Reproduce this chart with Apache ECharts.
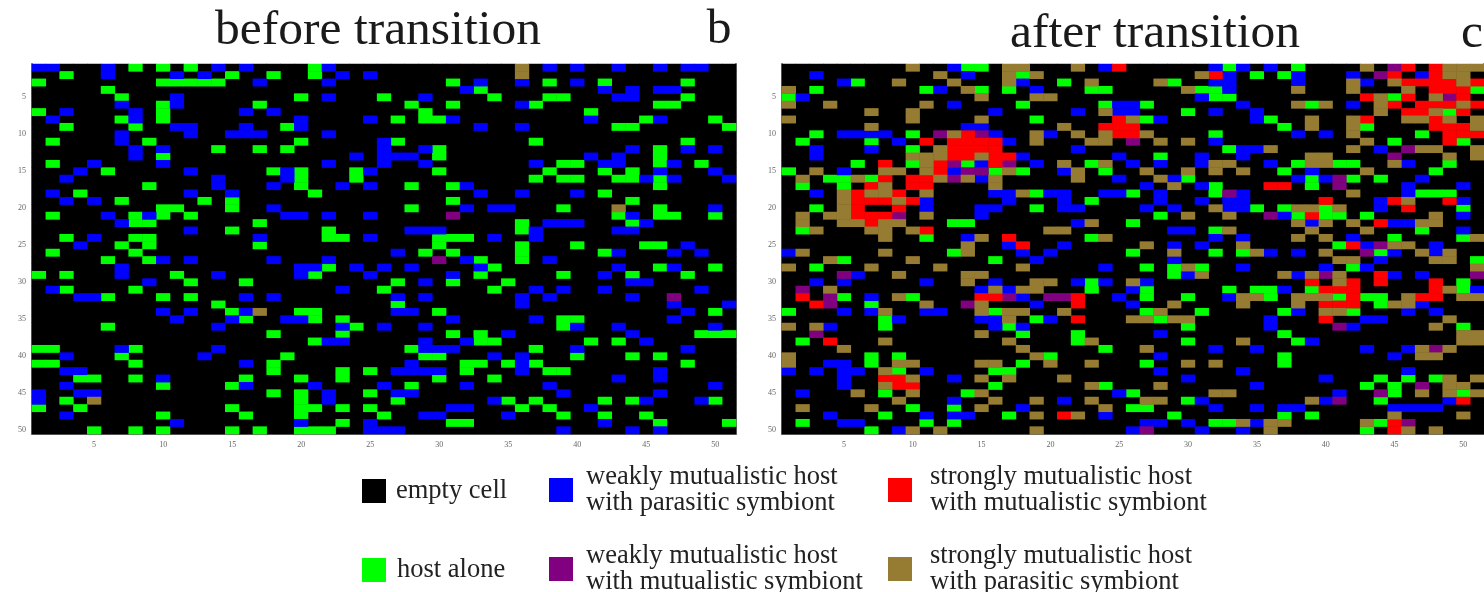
<!DOCTYPE html>
<html>
<head>
<meta charset="utf-8">
<script src="https://cdn.jsdelivr.net/npm/echarts@6/dist/echarts.min.js"></script>
<style>html,body{margin:0;padding:0;background:#fff;overflow:hidden}#c{width:1484px;height:592px;filter:blur(0.6px)}</style>
</head>
<body>
<div id="c"></div>
<script>
const columns = Array.from({length: 51}, (_, i) => String(i + 1));
const rows = Array.from({length: 50}, (_, i) => String(i + 1));
const stateNames = {
  E: 'empty cell',
  G: 'host alone',
  B: 'weakly mutualistic host\nwith parasitic symbiont',
  P: 'weakly mutualistic host\nwith mutualistic symbiont',
  R: 'strongly mutualistic host\nwith mutualistic symbiont',
  T: 'strongly mutualistic host\nwith parasitic symbiont'
};
const stateColors = {E: '#000000', G: '#00ff00', B: '#0000ff', P: '#800080', R: '#ff0000', T: '#967b32'};

// each row lists, per state letter, the occupied column numbers
const beforeRows = [
"B1,2,6,14,16,22,38,40,43,46,48,49 G8,10,12,21 T36",
"B6,11,13,23,25 G3,15,18,21 T36",
"B17,22,33,36,40 G1,10,11,12,13,14,31,38,42,48",
"B32,42,44,46,47 G6,33",
"B11,22,29,43,44 G7,20,26,34,38,39,48",
"B7,11,36 G10,17,28,31,37,46,47",
"B3,8,16,18 G1,10,29,41",
"B2,8,20,25,31,41,46 G7,10,27,29,30,45,50",
"B11,12,16,20,33,36 G3,8,19,43,44,51",
"B7,12,15,16,17,22",
"B7,26 G2,9,20,27,37,48",
"B8,10,26,29,44,48,50 G14,17,19,30,46",
"B8,24,26,27,28,41,43 G10,30,46",
"B5,10,22,26,29,37,42,43,47 G2,39,40,46,49",
"B4,12,19,25,46,50 G6,18,20,24,30,38,42,44",
"B3,14,19,45,47,51 G20,24,37,39,40,43,44,46",
"B14,18,23,25,32 G9,20,28,31,46",
"B2,12,15,33,36,40 G4,21,42",
"B3,5 G7,13,15,31,44",
"B18,32,34,35,50 G10,11,15,28,39,46 T43",
"B6,9,19,20,22,25,44 G2,8,10,12,43,46,47,50 P31",
"B7,38,39,40,45 G8,9,17,36,44",
"B12,28,29,30,37,43,44 G15,22,36",
"B5,17,25,34,37 G3,8,9,22,23,30,31,32",
"B4,48 G7,9,17,30,36,40,45,46",
"B27,43,47,49 G2,8,29,31,36,42",
"B10,12,18,22,32,38 G6,9,33,36 P30",
"B7,20,21,24,26,28,33,43,47 G22,34,46,50",
"B7,14,20,25,31,42 G1,3,11,21,33,39,44,48",
"B9,29,44,45 G12,16,27,31,35",
"B2,23,37,39,42,49 G3,8,26,34",
"B4,5,16,18,27,29,36,38,44 G6,10,12 P47",
"B36,47,51 G14,27",
"B10,12,16,27,28,48 G15,20,21,30,50 T17",
"B11,15,19,20,31,37,47 G16,21,23,39,40",
"B14,23,26,29,40,43,50 G6,24,39",
"B35,44 G18,23,31,33,49,50,51",
"B22,23,29,32,45 G21,33,34,41,43",
"B7,14,29,30,31,40,48 G1,2,8,28,37",
"B3,13,34,36 G7,19,29,30,40,44,46",
"B16,28,36 G1,2,8,18,32,33,35,37,48",
"B3,4,27,28,29,30,36,46 G18,23,25,32,38,39",
"B10,43,46 G4,5,8,16,20,23,30,34",
"B3,16,21,26,32,38,50 G10,15,28",
"B1,4,5,22,27,28,39,46 G18,20,25",
"B1,22,34,45,49 G3,20,27,35,37,42,44,50 T5",
"B31,32,41 G1,4,15,20,21,23,25,36,38",
"B3,29,30,35 G10,16,20,26,39,42,45",
"B11,20,25,42 G23,31,32,46,51",
"B25,26,27,39,44,46 G5,8,10,15,17,20,21,22"
];

const afterRows = [
"T10,17,18,22,43,49,50,51 B13,24,32,34,36 G14,15,33,38 R25,46,48 P45",
"B3,14,33,38,42,47 T12,17,19,31,49,50 G18,35,37 R32,45,48 P44",
"B5,18,32,33,38,43 G6,21,29 T9,13,17,23,28,42,45,50 R46,47,48,49,51",
"T1,14,30,38,42,46 G3,11,15,17,23,24,31,32,51 B12,19,33 R48,49,50",
"G1,32,33,45 B2,31 T15,19,20,44,48 R43,46,50 P49",
"T1,4,11,38,40,44,50 B13,25,26,34,42 G18,24,27,39 R45,47,48,49,51",
"T7,10,24,44,48 B16,22,25,26,32,35 G30,49 R46,47,50",
"T1,10,15,26,39,42,46,47,49,51 G19,27,36 R25,43,48 B28,35",
"T7,21,39,42,51 B14,15 R24,25,26,48,49,50 G37,43",
"G3,10,32,47 B5,6,7,8,16,20,38,40 P12,15 T13,19,22,24,27,42 R14,25,26,49,50,51",
"G2,7,45,50 B9,17,32 R11,13,14,15,16,49 T19,23,24,28,30,43 P26",
"B3,7,22,34,35,44 G10,33 T12,36,42,47,48,51 R13,14,15,16 P46",
"B3,18,25,31,34 T10,11,12,15,39,40,49,51 R13,14,16,17 G28 P45",
"G6,10,14,23,38,41,42,49 R8,12,16 T11,21,24,32,33,39,40,45 P13,17 B15,19,26,28,31,36,46",
"G1,16,18,24,37,48 T3,8,9,11,17,22,27,30,32,34,43 B5,13,21,39 R12 P14,15",
"T2,6,12,14,16,22,28 B15,25,29,38,40,47 R8,10,11 P13,41 G4,5,7,30,39,42,44",
"G2,5,32,39 R7,10,11,36,37 T8,16,29 B27,31,46,50 P41",
"B3,16,17,20,21,24,25,28,34,46 T5,7,8,11,18,42 R6,9 G19,26,32,47,48,49 P33",
"T5,9,46 R6,7,8,10,40,45,49 B11,17,21,28,31,33,34,44,50 G23",
"T5,32,38,39,41 G3,19,35,37,40,50 R6,9,46 B11,15,16,21,22,27,29,33,34,44",
"T2,4,5,11,30,33,48 R6,7,8,39 P9,36 B15,37,50 G28,38,40,41,43",
"T2,5,6,8,9,23,38,40,42,47,48 R7,44 G13,14,26 B22,39,45,46",
"G2,32,47 T3,7,8,10,20,21,33,39,43 R11 B29,30,50",
"T8,15,24,38,40,51 G11,23,45,50 B14,32,34,42 R17",
"T14,27,34,45,46 B17,21,29,31,43,48 R18,42 G41 P44",
"B1,18,20,36,38,45,48 T2,8,14,29,35,40,47,49 G13,26,32,34,44 P43",
"T4,10,41,42,48,49 G5,16,51 B19,29,44",
"T1,7,12,18,30,51 G3,27,29,31,42 B24,34,40,43",
"P5,40,51 B6,30,38,45,47 T9,14,15,31,37,39,41 G29 R44",
"B3,5,11,16,22,24,27 T14,19,20,26,41 G23,50 R39,42,44,48",
"P2 T4,16,18,19,49 B15,17,26,37,51 G23,27,33,35,36,39,50 R40,41,42,48",
"R2,15,16,22,42,47,48 P4,17,20,21 G5,10,27,30,36,41,43,44 B7,18,25,33 T9,34,35,38,39,40,46,50,51",
"R3,22,40,41,42 P4,14 G7,44 T11,15,29,34,38,45,46 B19,26,47",
"G1,16,27,31,37,42 B5,7,11,12,38,46,48 T8,15,17,18,21,28,40,41",
"G8,19,28 B9,15,16,20,36,43,44 T17,26,27,29,30,49 R22,40",
"T1,3,48 B4,16,18,36,42 G8,17,30,50 P41",
"P3 T15,50,51 G18,22,37 B28",
"G2,22,30,38 R4 T8,17,23,34,50,51 B39",
"T5,18,27,47,49 G24 B32,35,43,46 P48",
"T1,19,47,48 G7,9,20,37 B28,45",
"T1,9,10,15,16,20,23,30,32 B4,5 G7,18,27,37",
"B1,3,5,6,11,28,34,46 T8 G9,16,17",
"B5,13,30,40 R8,9 T10,15,17,21,49,51 G44,46,48",
"B5,35 T8,23,28,49,50 R9,10 G16,24,43,45 P47",
"B2,25,41 T6,10,15,32,33,47,49,51 G8,14,26,45,50 P44",
"T9,16,19,23,27,28,39 B13,21,31,40,49 G30,44 P41 R50",
"T2,7,15,24 G10,13,26,27 B18,32,35,37,38,45,46,47,48",
"B4,11,13,14,24 G8,17,29,37,39 T19,22,45,50 R21",
"G2,11,13,32,33,44 B5,6,27,28,30,35 T34,36,37,43 R45 P46",
"G7,43 B9,26,31,34 T10,12,19,36,46,48 P27 R45"
];

function cellsByState(rowStrings) {
  const out = {E: [], G: [], B: [], P: [], R: [], T: []};
  rowStrings.forEach((rowText, r) => {
    const taken = {};
    rowText.split(' ').forEach(tok => {
      tok.slice(1).split(',').forEach(c => {
        taken[+c - 1] = true;
        out[tok[0]].push([+c - 1, r, 1]);
      });
    });
    columns.forEach((_, c) => { if (!taken[c]) out.E.push([c, r, 1]); });
  });
  return out;
}

const panels = [
  {cells: cellsByState(beforeRows), left: 32, width: 704},
  {cells: cellsByState(afterRows), left: 782, width: 704}
];
const frame = '#6e6e6e';
const every5 = i => (i + 1) % 5 === 0;
const tickX = i => i === 0 || (i + 1) % 5 === 0;

const grids = [], xAxes = [], yAxes = [], series = [];
panels.forEach((p, k) => {
  grids.push({left: p.left, top: 64, width: p.width, height: 370, show: true, backgroundColor: '#000', borderWidth: 0});
  [['bottom', true], ['top', false]].forEach(([pos, lab]) => {
    xAxes.push({
      type: 'category', gridIndex: k, position: pos, data: columns,
      axisLine: {show: true, lineStyle: {color: frame, width: pos === 'bottom' ? 2 : 1}},
      axisTick: {show: true, inside: true, length: 6, alignWithLabel: true, interval: tickX, lineStyle: {color: '#444', width: 1}},
      axisLabel: {show: lab, interval: every5, fontSize: 8, color: '#666', margin: 7, fontFamily: 'Liberation Serif'},
      splitLine: {show: false}
    });
  });
  [['left', true], ['right', false]].forEach(([pos, lab]) => {
    yAxes.push({
      type: 'category', gridIndex: k, position: pos, inverse: true, data: rows,
      axisLine: {show: true, lineStyle: {color: frame, width: 2}},
      axisTick: {show: true, inside: true, length: 6, alignWithLabel: true, interval: every5, lineStyle: {color: '#444', width: 1}},
      axisLabel: {show: lab, interval: every5, fontSize: 8, color: '#666', margin: 6, fontFamily: 'Liberation Serif'},
      splitLine: {show: false}
    });
  });
  Object.keys(stateNames).forEach(s => {
    series.push({
      type: 'heatmap', name: stateNames[s], xAxisIndex: k * 2, yAxisIndex: k * 2,
      data: p.cells[s], itemStyle: {color: stateColors[s], borderWidth: 0},
      emphasis: {disabled: true}, silent: true, progressive: 0, animation: false
    });
  });
});

const legendFont = {fontFamily: 'Liberation Serif', fontSize: 26.5, lineHeight: 26, color: '#222'};
const legendSpots = [
  ['E', 362, 477, 5, 2], ['G', 362, 556, 6, 2],
  ['B', 549, 477, 8, 4], ['P', 549, 556, 8, 4],
  ['R', 888, 477, 13, 4], ['T', 888, 556, 13, 4]
];
const titleFont = {fontFamily: 'Liberation Serif', fontWeight: 'normal', color: '#1a1a1a', fontSize: 49.5};

const chart = echarts.init(document.getElementById('c'), null, {renderer: 'canvas'});
chart.setOption({
  animation: false,
  backgroundColor: '#fff',
  title: [
    {text: 'before transition', left: 378, top: 6, padding: 0, textAlign: 'center', textStyle: titleFont},
    {text: 'b', left: 719, top: 5, padding: 0, textAlign: 'center', textStyle: titleFont},
    {text: 'after transition', left: 1155, top: 9, padding: 0, textAlign: 'center', textStyle: titleFont},
    {text: 'c', left: 1472, top: 9, padding: 0, textAlign: 'center', textStyle: titleFont}
  ],
  grid: grids, xAxis: xAxes, yAxis: yAxes, series: series,
  legend: legendSpots.map(([s, x, y, gap, shift]) => ({
    data: [stateNames[s]], left: x, top: s === 'E' || s === 'G' ? y : y - 15, orient: 'vertical',
    icon: 'rect', itemWidth: 24, itemHeight: 24, itemGap: 0, padding: 0, selectedMode: false,
    textStyle: Object.assign({}, legendFont, {padding: [shift, 0, 0, gap]})
  }))
});
</script>
</body>
</html>
